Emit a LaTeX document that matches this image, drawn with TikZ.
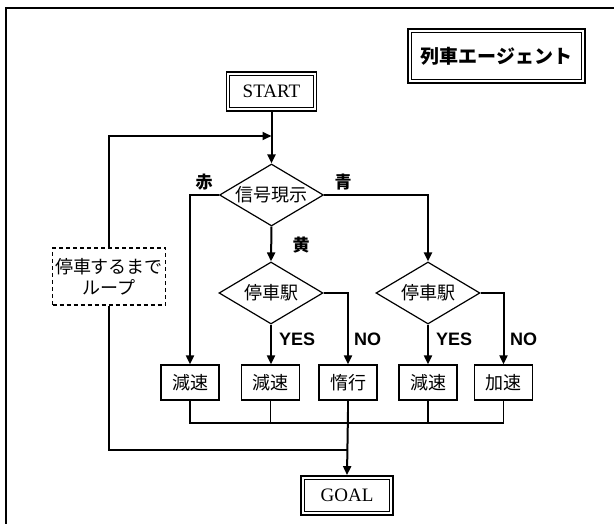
\documentclass[tikz,border=0pt]{standalone}
\usepackage{fontspec}
\setmainfont{Liberation Serif}
\newfontfamily\jp{Noto Sans CJK JP}
\newfontfamily\arialf{Liberation Sans}
\usetikzlibrary{shapes.geometric,arrows.meta}
\begin{document}
\begin{tikzpicture}[x=1pt,y=-1pt,
  arr/.style={line width=2pt,-{Triangle[length=9pt,width=8pt]}},
  thinline/.style={line width=1.3pt},
  loopline/.style={line width=1.7pt},
  dbl/.style={draw, line width=1.8pt, inner sep=0pt,
    path picture={\draw[line width=0.9pt]
      ([shift={(3.3pt,-3.3pt)}]path picture bounding box.north west) rectangle
      ([shift={(-3.3pt,3.3pt)}]path picture bounding box.south east);}},
  boxn/.style={draw, line width=1.3pt, inner sep=0pt, minimum width=58pt, minimum height=35pt,
    font=\jp\fontsize{18}{20}\selectfont},
  dia/.style={draw, diamond, line width=1.2pt, inner sep=0pt, minimum width=104pt, minimum height=62pt},
  diatext/.style={font=\jp\fontsize{18}{20}\selectfont},
  sig/.style={font=\jp\bfseries\fontsize{17}{19}\selectfont},
  yn/.style={font=\arialf\bfseries\fontsize{18}{20}\selectfont, anchor=west, inner sep=0pt},
  loopbox/.style={draw, dash pattern=on 4pt off 3pt, line width=1.3pt, inner sep=0pt,
    minimum width=113pt, minimum height=57pt, align=center,
    font=\jp\fontsize{18}{21}\selectfont}
]
\useasboundingbox (0,0) rectangle (614,524);
\clip (0,0) rectangle (614,524);
\fill[white] (0,0) rectangle (614,524);
\draw[line width=2pt] (6,8) rectangle (660,580);

% title
\node[dbl, minimum width=177pt, minimum height=54pt, font=\jp\bfseries\fontsize{19}{21}\selectfont]
  (title) at (496.5,56) {列車エージェント};

% start / goal
\node[dbl, minimum width=90pt, minimum height=39pt, font=\fontsize{19}{21}\selectfont]
  (start) at (271.5,91.5) {START};
\node[dbl, minimum width=92pt, minimum height=39pt, font=\fontsize{19}{21}\selectfont]
  (goal) at (347,495.5) {GOAL};

% diamonds
\node[dia] (d1) at (271.5,195) {};
\node[diatext] (d1t) at (d1.center) {信号現示};
\node[dia] (d2) at (271,293) {};
\node[diatext] (d2t) at (d2.center) {停車駅};
\node[dia] (d3) at (428,293) {};
\node[diatext] (d3t) at (d3.center) {停車駅};

% action boxes
\node[boxn] (b1) at (190,382.5) {減速};
\node[boxn] (b2) at (270.5,382.5) {減速};
\node[boxn] (b3) at (348,382.5) {惰行};
\node[boxn] (b4) at (428,382.5) {減速};
\node[boxn] (b5) at (503.5,382.5) {加速};

% loop box
\node[loopbox] (lp) at (109,276.5) {停車するまで\\ループ};

% coordinates
\coordinate (entry) at (271.5,136);
\coordinate (bus) at (0,423);
\coordinate (jn) at (348,412);
\coordinate (lj) at (348,450);

% labels
\node[sig] (lr) at (204,182) {赤};
\node[sig] (lb) at (343,182) {青};
\node[sig] (ly) at (301,245) {黄};
\node[yn] (y1) at (279,339) {YES};
\node[yn] (n1) at (354,339) {NO};
\node[yn] (y2) at (436,339) {YES};
\node[yn] (n2) at (510,339) {NO};

% connectors
\draw[arr] (start.south) -- (d1.north);
\draw[loopline] (lp.south) |- (lj);
\draw[loopline, -{Triangle[length=9pt,width=8pt]}] (lp.north) |- (entry);
\draw[arr] (d1.west) -| (b1.north);
\draw[arr] (d1.south) -- (d2.north);
\draw[arr] (d1.east) -| (d3.north);
\draw[arr] (d2.south) -- (d2.south |- b2.north);
\draw[arr] (d2.east) -| (b3.north);
\draw[arr] (d3.south) -- (b4.north);
\draw[arr] (d3.east) -| (b5.north);

\draw[thinline] (b1.south) |- (b5.south |- bus) -- (b5.south);
\draw[thinline] (b2.south) -- (b2.south |- bus);
\draw[thinline] (b4.south) -- (b4.south |- bus);
\draw[thinline] (b3.south) -- (jn);
\draw[arr] (jn) -- (goal.north);
\end{tikzpicture}
\end{document}
